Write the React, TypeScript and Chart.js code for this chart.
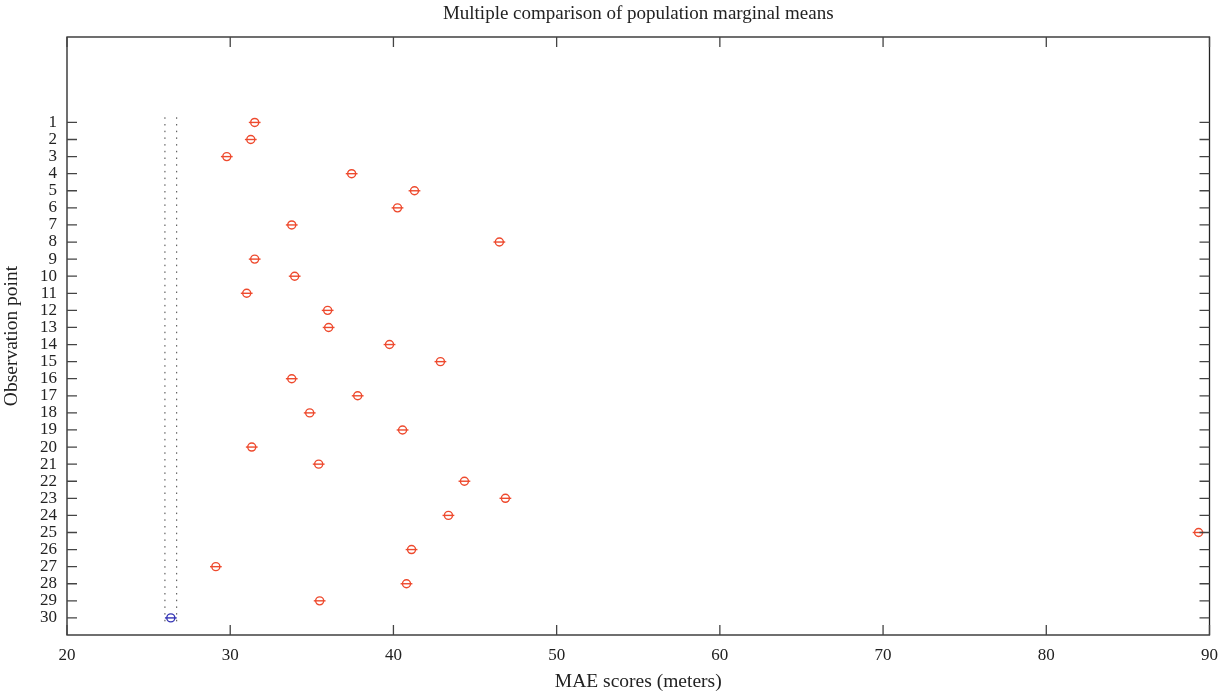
import React, { useEffect, useRef } from "react";
import { Chart, registerables } from "chart.js";

Chart.register(...registerables);

const observationPoints: number[] = Array.from({ length: 30 }, (_, i) => i + 1);
const meanScores: number[] = [
  31.5, 31.26, 29.79, 37.44, 41.29, 40.25, 33.77, 46.49, 31.5, 33.95,
  31.01, 35.97, 36.03, 39.76, 42.88, 33.77, 37.81, 34.87, 40.56, 31.32,
  35.42, 44.35, 46.86, 43.37, 89.33, 41.11, 29.12, 40.8, 35.48, 26.36,
];
const intervalHalfWidth = 0.36;
const selectedGroup = 30;
const xTicks: number[] = [20, 30, 40, 50, 60, 70, 80, 90];
const yTickLabels: string[] = observationPoints.map(String);
const titleText = "Multiple comparison of population marginal means";
const xTitle = "MAE scores (meters)";
const yTitle = "Observation point";

const RED = "#ee4a2e";
const BLUE = "#3535b5";
const FONT = "'Liberation Serif', 'DejaVu Serif', serif";

export default function App() {
  const ref = useRef<HTMLCanvasElement | null>(null);

  useEffect(() => {
    document.body.style.margin = "0";
    const canvas = ref.current;
    if (!canvas) return;

    const selMean = meanScores[selectedGroup - 1];
    const lo = selMean - intervalHalfWidth;
    const hi = selMean + intervalHalfWidth;

    const pointData = observationPoints.map((p, i) => ({ x: meanScores[i], y: p }));
    const colors = observationPoints.map((p) => (p === selectedGroup ? BLUE : RED));

    const framePlugin = {
      id: "frameAndBars",
      afterDatasetsDraw(chart: any) {
        const { ctx, chartArea, scales } = chart;
        const xs = scales.x;
        const ys = scales.y;
        ctx.save();
        observationPoints.forEach((p, i) => {
          const y = ys.getPixelForValue(p);
          const x1 = xs.getPixelForValue(meanScores[i] - intervalHalfWidth);
          const x2 = xs.getPixelForValue(meanScores[i] + intervalHalfWidth);
          ctx.strokeStyle = colors[i];
          ctx.lineWidth = 1.4;
          ctx.beginPath();
          ctx.moveTo(x1, y);
          ctx.lineTo(x2, y);
          ctx.stroke();
        });
        ctx.strokeStyle = "#222";
        ctx.lineWidth = 1.3;
        ctx.strokeRect(chartArea.left, chartArea.top, chartArea.right - chartArea.left, chartArea.bottom - chartArea.top);
        const tl = 10;
        ctx.strokeStyle = "#444";
        ctx.lineWidth = 1.3;
        ctx.beginPath();
        xTicks.forEach((v) => {
          const x = xs.getPixelForValue(v);
          ctx.moveTo(x, chartArea.bottom);
          ctx.lineTo(x, chartArea.bottom - tl);
          ctx.moveTo(x, chartArea.top);
          ctx.lineTo(x, chartArea.top + tl);
        });
        observationPoints.forEach((p) => {
          const y = ys.getPixelForValue(p);
          ctx.moveTo(chartArea.left, y);
          ctx.lineTo(chartArea.left + tl, y);
          ctx.moveTo(chartArea.right, y);
          ctx.lineTo(chartArea.right - tl, y);
        });
        ctx.stroke();
        ctx.restore();
      },
    };

    const chart = new Chart(canvas, {
      type: "scatter",
      data: {
        datasets: [
          {
            label: "means",
            data: pointData,
            pointStyle: "circle",
            pointRadius: 4,
            pointBorderWidth: 1.4,
            pointBackgroundColor: "rgba(0,0,0,0)",
            pointBorderColor: colors,
            showLine: false,
          },
          {
            label: "lo",
            data: [
              { x: lo, y: 0.7 },
              { x: lo, y: 30.35 },
            ],
            showLine: true,
            borderColor: "#444",
            borderWidth: 1,
            borderDash: [1.5, 5.2],
            pointRadius: 0,
          },
          {
            label: "hi",
            data: [
              { x: hi, y: 0.7 },
              { x: hi, y: 30.35 },
            ],
            showLine: true,
            borderColor: "#444",
            borderWidth: 1,
            borderDash: [1.5, 5.2],
            pointRadius: 0,
          },
        ],
      },
      options: {
        animation: false,
        responsive: false,
        maintainAspectRatio: false,
        layout: { padding: { left: 0, right: 17, top: 0, bottom: 0 } },
        plugins: {
          legend: { display: false },
          tooltip: { enabled: false },
          title: { display: false },
        },
        scales: {
          xTop: {
            type: "linear",
            position: "top",
            display: true,
            min: 20,
            max: 90,
            afterFit: (scale: any) => {
              scale.height = 37;
            },
            grid: { display: false, drawTicks: false },
            border: { display: false },
            ticks: { display: false },
            title: {
              display: true,
              text: titleText,
              color: "#222",
              font: { family: FONT, size: 19 },
              padding: { top: 3, bottom: 0 },
            },
          },
          x: {
            type: "linear",
            position: "bottom",
            min: 20,
            max: 90,
            afterBuildTicks: (scale: any) => {
              scale.ticks = xTicks.map((v) => ({ value: v }));
            },
            afterFit: (scale: any) => {
              scale.height = 59;
            },
            grid: { display: false, drawTicks: false },
            border: { display: false },
            ticks: {
              color: "#222",
              font: { family: FONT, size: 17 },
              padding: 10,
              maxRotation: 0,
            },
            title: {
              display: true,
              text: xTitle,
              color: "#222",
              font: { family: FONT, size: 19.5 },
              padding: { top: 0, bottom: 0.6 },
            },
          },
          y: {
            type: "linear",
            reverse: true,
            min: -4,
            max: 31,
            afterBuildTicks: (scale: any) => {
              scale.ticks = observationPoints.map((v) => ({ value: v }));
            },
            afterFit: (scale: any) => {
              scale.width = 67;
            },
            grid: { display: false, drawTicks: false },
            border: { display: false },
            ticks: {
              color: "#222",
              font: { family: FONT, size: 17 },
              padding: 10,
              autoSkip: false,
              callback: (_v: any, i: number) => yTickLabels[i],
            },
            title: {
              display: true,
              text: yTitle,
              color: "#222",
              font: { family: FONT, size: 19.5 },
              padding: { top: 0, bottom: 0 },
            },
          },
        },
      },
      plugins: [framePlugin],
    });

    return () => chart.destroy();
  }, []);

  return (
    <div style={{ width: 1228, height: 694, background: "#fff" }}>
      <canvas ref={ref} width={1228} height={694} style={{ display: "block" }} />
    </div>
  );
}
